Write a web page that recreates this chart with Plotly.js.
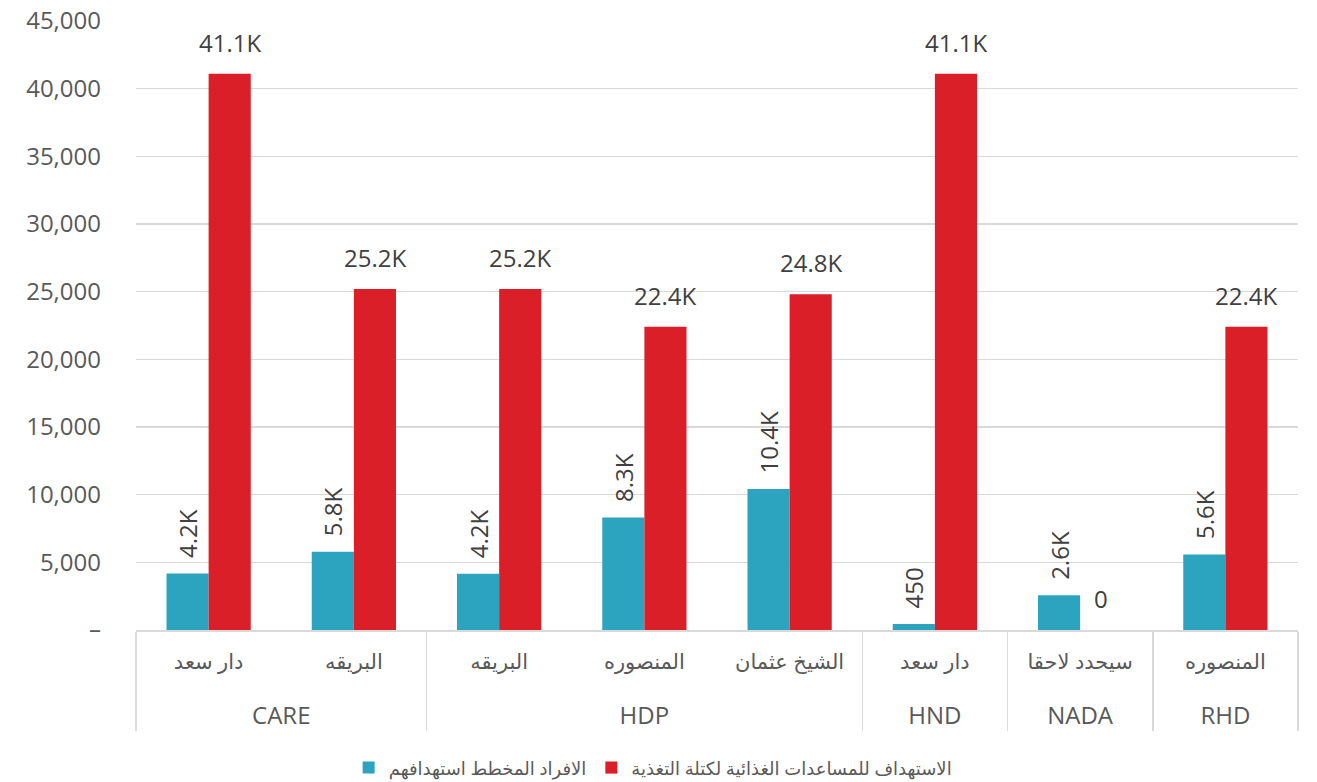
<!DOCTYPE html>
<html><head><meta charset="utf-8">
<script src="https://cdn.plot.ly/plotly-3.0.1.min.js"></script>
<style>body{margin:0;background:#fff}#chart{width:1317px;height:782px}</style>
</head><body><div id="chart"></div>
<script>
const groups = ['CARE','CARE','HDP','HDP','HDP','HND','NADA','RHD'];
const districts = ['دار سعد','البريقه','البريقه','المنصوره','الشيخ عثمان','دار سعد','سيحدد لاحقا','المنصوره'];
const plannedTargets = [4180, 5790, 4160, 8320, 10420, 450, 2560, 5580];
const nutritionTargets = [41100, 25200, 25200, 22400, 24800, 41100, 0, 22400];
const seriesNames = ['الافراد المخطط استهدافهم', 'الاستهداف للمساعدات الغذائية لكتلة التغذية'];
const yTickVals = [0, 5000, 10000, 15000, 20000, 25000, 30000, 35000, 40000, 45000];
const yTickText = ['–', '5,000', '10,000', '15,000', '20,000', '25,000', '30,000', '35,000', '40,000', '45,000'];

const BLUE = '#2CA3BF', RED = '#DA1F29';
const FONT = '"Open Sans", "DejaVu Sans", sans-serif';
function fmt(v){ return v >= 1000 ? (v/1000).toFixed(1) + 'K' : String(v); }

const bargap = 0.42;
const barW = (1 - bargap) / 2;
const innerLabels = districts.map(d => d + '<br><span style="font-size:48px">\u00a0</span>');
const outerLabels = groups.map(g => '<span style="font-size:24px">' + g + '</span>');

const traces = [
  {
    type: 'bar', name: seriesNames[0], x: [outerLabels, innerLabels], y: plannedTargets,
    marker: {color: BLUE},
    text: plannedTargets.map(v => '\u00a0\u00a0' + fmt(v)),
    textposition: 'outside', textangle: -90, constraintext: 'none', cliponaxis: false,
    textfont: {family: FONT, size: 24, color: '#404040'},
    hoverinfo: 'none'
  },
  {
    type: 'bar', name: seriesNames[1], x: [outerLabels, innerLabels], y: nutritionTargets,
    marker: {color: RED}, cliponaxis: false, hoverinfo: 'none'
  }
];

const annotations = nutritionTargets.map((v, i) => ({
  x: i + barW / 2, y: v, xref: 'x', yref: 'y', text: fmt(v), showarrow: false,
  xanchor: 'center', yanchor: 'bottom', yshift: 13,
  font: {family: FONT, size: 24, color: '#404040'}
}));

const layout = {
  width: 1317, height: 782,
  margin: {l: 136, r: 19, t: 21, b: 152},
  paper_bgcolor: '#fff', plot_bgcolor: '#fff',
  barmode: 'group', bargap: bargap, bargroupgap: 0,
  showlegend: true,
  legend: {orientation: 'h', x: 0.183, xanchor: 'left', xref: 'paper',
           y: 0.018, yanchor: 'middle', yref: 'container',
           font: {family: FONT, size: 18, color: '#595959'}, traceorder: 'normal'},
  xaxis: {
    type: 'multicategory', showline: true, linecolor: '#d9d9d9', linewidth: 1.5,
    showdividers: true, dividercolor: '#d9d9d9', dividerwidth: 1.5,
    ticks: '', ticklabelstandoff: 12,
    tickfont: {family: FONT, size: 21, color: '#595959'}, showgrid: false, automargin: false
  },
  yaxis: {
    range: [0, 45000], tickvals: yTickVals, ticktext: yTickText,
    gridcolor: '#d9d9d9', gridwidth: 1.5, zeroline: false, showline: false,
    tickfont: {family: FONT, size: 24, color: '#595959'}, ticklabelstandoff: 34, automargin: false
  },
  annotations: annotations,
  font: {family: FONT}
};

Plotly.newPlot('chart', traces, layout, {displayModeBar: false, staticPlot: true});
</script>
</body></html>
